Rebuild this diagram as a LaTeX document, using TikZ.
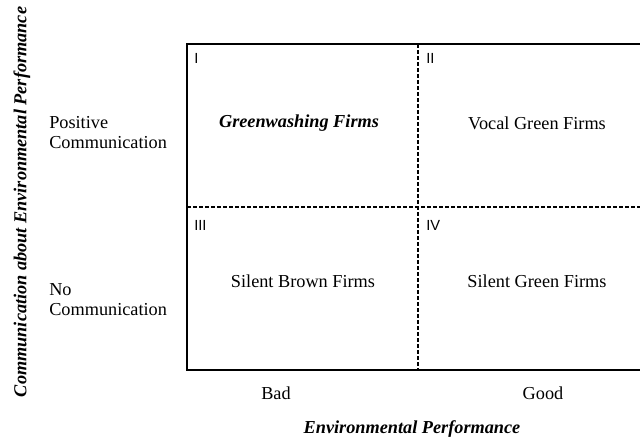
\documentclass[tikz,border=0pt]{standalone}
\usepackage{fontspec}
\setmainfont{Liberation Serif}
\newfontfamily\numfont{Liberation Sans}
\usepackage{tikz}

\begin{document}
\begin{tikzpicture}[x=0.75pt,y=-0.75pt]
						\tikzstyle{every node}+=[inner sep=0pt]
						\tikzstyle{cell}=[font=\fontsize{13.7}{16}\selectfont]
						\tikzstyle{quad}=[font=\numfont\fontsize{11}{13}\selectfont,anchor=north west]
						\tikzstyle{axis}=[font=\fontsize{13.7}{16}\selectfont\bfseries\itshape]
						\tikzstyle{side}=[font=\fontsize{13.7}{15}\selectfont,align=left,anchor=west]
						\tikzstyle{divider}=[black,line width=1.2pt,dash pattern=on 3pt off 1.5pt]
						\useasboundingbox (0,0) rectangle (640,443);
						\clip (0,0) rectangle (640,443);
						% corners of the matrix
						\coordinate (nw) at (187,44);
						\coordinate (ne) at (660,44);
						\coordinate (sw) at (187,370);
						\coordinate (se) at (660,370);
						\coordinate (mtop) at (418,44);
						\coordinate (mbot) at (418,370);
						\coordinate (mleft) at (187,207);
						\coordinate (mright) at (660,207);
						\draw [black,line width=1.5pt] (nw) -- (ne) -- (se) -- (sw) -- cycle;
						\draw [divider] (mtop) -- (mbot);
						\draw [divider] (mleft) -- (mright);
						% quadrant numbers
						\node [quad] (q1) at (194,53) {I};
						\node [quad] (q2) at (426,53) {II};
						\node [quad] (q3) at (194,220) {III};
						\node [quad] (q4) at (426,220) {IV};
						% cell texts
						\node [cell,font=\fontsize{13.7}{16}\selectfont\bfseries\itshape] (greenwash) at (299,123) {Greenwashing Firms};
						\node [cell] (vocal) at (537,123) {Vocal Green Firms};
						\node [cell] (brown) at (303,281) {Silent Brown Firms};
						\node [cell] (silent) at (537,281) {Silent Green Firms};
						% row labels
						\node [side] (poscomm) at (49,133) {Positive\\Communication};
						\node [side] (nocomm) at (49,300) {No\\Communication};
						% column labels
						\node [cell] (bad) at (276,393) {Bad};
						\node [cell] (good) at (543,393) {Good};
						% axis titles
						\node [axis] (xtitle) at (412,429) {Environmental Performance};
						\node [axis,rotate=90] (ytitle) at (22,202) {Communication about Environmental Performance};
\end{tikzpicture}
\end{document}
